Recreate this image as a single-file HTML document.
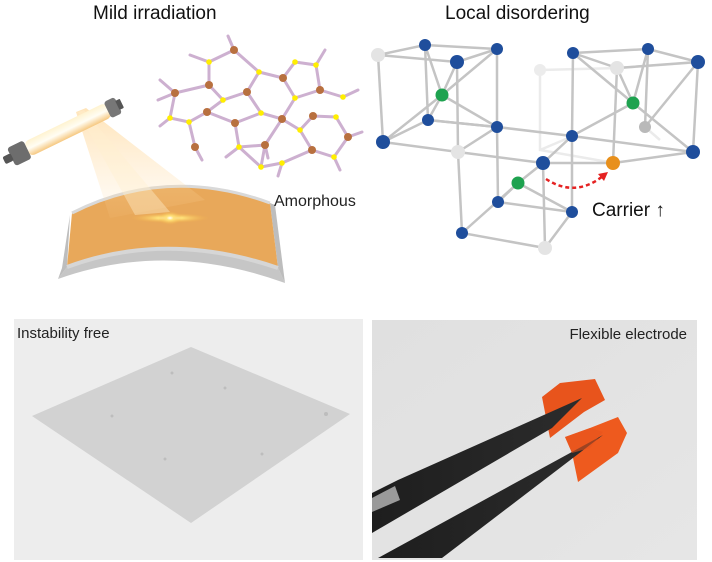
<!DOCTYPE html>
<html><head><meta charset="utf-8"><style>
html,body{margin:0;padding:0;background:#fff;width:712px;height:562px;overflow:hidden}
svg{display:block;font-family:"Liberation Sans",sans-serif}
</style></head><body>
<svg width="712" height="562" viewBox="0 0 712 562" xmlns="http://www.w3.org/2000/svg">
<defs>
<linearGradient id="tube" x1="0" y1="0" x2="0" y2="1"><stop offset="0" stop-color="#fff3d0"/><stop offset="0.5" stop-color="#fffdf4"/><stop offset="1" stop-color="#f6c880"/></linearGradient>
<radialGradient id="glow" cx="0.5" cy="0.5" r="0.5"><stop offset="0" stop-color="#fff"/><stop offset="0.3" stop-color="#ffe27a"/><stop offset="1" stop-color="#f2b04a" stop-opacity="0"/></radialGradient>
<linearGradient id="cone" x1="0" y1="0" x2="0" y2="1"><stop offset="0" stop-color="#ffd28a" stop-opacity="0.85"/><stop offset="1" stop-color="#ffdca8" stop-opacity="0.1"/></linearGradient>
<linearGradient id="arm" x1="0" y1="0" x2="1" y2="0"><stop offset="0" stop-color="#1e1e1e"/><stop offset="1" stop-color="#2c2c2c"/></linearGradient>
<linearGradient id="rbg" x1="0" y1="0" x2="1" y2="1"><stop offset="0" stop-color="#e0e0e0"/><stop offset="1" stop-color="#e6e6e6"/></linearGradient>
</defs>

<text x="93" y="19" font-size="19" fill="#111">Mild irradiation</text>
<text x="445" y="19" font-size="19" fill="#111">Local disordering</text>

<!-- substrate -->
<path d="M58,279 Q167,240 285,283 L278,268 Q167,230 67,267 Z" fill="#c6c6c6"/>
<path d="M67,267 L58,279 L62,268 L70,215 Z" fill="#bdbdbd"/>
<path d="M278,268 L285,283 L275,205 L270,203 Z" fill="#bdbdbd"/>
<path d="M72,213 Q167,165 270,203 L278,268 Q167,230 67,267 Z" fill="#e8a85a"/>
<path d="M72,213 Q167,165 270,203" fill="none" stroke="#d9d9d9" stroke-width="3"/>
<path d="M67,267 Q167,230 278,268" fill="none" stroke="#d6d6d6" stroke-width="4"/>

<!-- light cone -->
<polygon points="76,112 86,108 205,200 110,218" fill="url(#cone)" opacity="0.7"/>
<polygon points="78,112 84,110 170,212 135,215" fill="#fff0d0" opacity="0.4"/>
<ellipse cx="170" cy="218" rx="40" ry="5" fill="url(#glow)"/>
<ellipse cx="170" cy="218" rx="12" ry="7" fill="url(#glow)"/>

<!-- lamp -->
<g transform="translate(67,130) rotate(-26)">
<rect x="-45" y="-8" width="92" height="16" rx="6" fill="url(#tube)"/>
<rect x="-62" y="-10" width="18" height="20" rx="3" fill="#6d6d6d"/>
<rect x="-70" y="-4" width="9" height="8" rx="2" fill="#555"/>
<rect x="45" y="-9" width="12" height="18" rx="3" fill="#777"/>
<rect x="56" y="-5" width="5" height="10" rx="1" fill="#555"/>
</g>

<!-- amorphous network -->
<g stroke="#cdb0d0" stroke-width="3" stroke-linecap="round" fill="none">
<path d="M234,50 L209,62 L209,85 L175,93 M209,85 L223,100 L247,92 L259,72 L234,50 M259,72 L283,78 L295,62 L316,65 L320,90 L343,97 M283,78 L295,98 L320,90 M295,98 L282,119 L300,130 L313,116 L336,117 L348,137 L334,157 L312,150 L300,130 M247,92 L261,113 L282,119 M175,93 L170,118 L189,122 L207,112 L223,100 M207,112 L235,123 L261,113 M235,123 L239,147 L261,167 L282,163 L312,150 M239,147 L265,145 L282,119 M189,122 L195,147 M265,145 L261,167"/>
<path d="M234,50 L228,36 M209,62 L190,55 M175,93 L160,80 M170,118 L160,126 M195,147 L202,160 M316,65 L325,50 M343,97 L358,90 M348,137 L362,132 M334,157 L340,170 M282,163 L278,176 M239,147 L226,157 M265,145 L268,158 M175,93 L158,100"/>
</g>
<g fill="#b8703f">
<circle cx="234" cy="50" r="4"/><circle cx="209" cy="85" r="4"/><circle cx="175" cy="93" r="4"/><circle cx="247" cy="92" r="4"/><circle cx="283" cy="78" r="4"/><circle cx="320" cy="90" r="4"/><circle cx="207" cy="112" r="4"/><circle cx="235" cy="123" r="4"/><circle cx="282" cy="119" r="4"/><circle cx="313" cy="116" r="4"/><circle cx="265" cy="145" r="4"/><circle cx="348" cy="137" r="4"/><circle cx="195" cy="147" r="4"/><circle cx="312" cy="150" r="4"/>
</g>
<g fill="#ffee00">
<circle cx="209" cy="62" r="2.8"/><circle cx="259" cy="72" r="2.8"/><circle cx="295" cy="62" r="2.8"/><circle cx="316" cy="65" r="2.8"/><circle cx="223" cy="100" r="2.8"/><circle cx="295" cy="98" r="2.8"/><circle cx="343" cy="97" r="2.8"/><circle cx="170" cy="118" r="2.8"/><circle cx="189" cy="122" r="2.8"/><circle cx="261" cy="113" r="2.8"/><circle cx="300" cy="130" r="2.8"/><circle cx="336" cy="117" r="2.8"/><circle cx="239" cy="147" r="2.8"/><circle cx="282" cy="163" r="2.8"/><circle cx="334" cy="157" r="2.8"/><circle cx="261" cy="167" r="2.8"/>
</g>
<text x="274" y="206" font-size="16" fill="#222">Amorphous</text>

<!-- lattice -->
<g stroke="#ebebeb" stroke-width="2.5" fill="none">
<path d="M540,70 L620,68 L700,62 M540,70 L540,150 L614,163 M645,127 L660,140 M540,150 L573,136"/>
</g>
<circle cx="540" cy="70" r="6" fill="#ececec"/>
<g stroke="#c4c4c4" stroke-width="2.5" fill="none" stroke-linecap="round">
<path d="M378,55 L425,45 L497,49 L457,62 L378,55 M378,55 L383,142 L428,120 L497,127 L458,152 L383,142 M425,45 L428,120 M497,49 L497,127 M457,62 L458,152 M425,45 L442,95 L457,62 M428,120 L442,95 L497,49 M442,95 L497,127 M383,142 L442,95"/>
<path d="M573,53 L648,49 L698,62 L617,68 L573,53 M573,53 L572,136 L693,152 M698,62 L693,152 M648,49 L645,127 M617,68 L613,163 L693,152 M573,53 L633,103 L648,49 M633,103 L693,152 M633,103 L617,68 M633,103 L572,136 M645,127 L698,62"/>
<path d="M497,127 L572,136 M458,152 L543,163 L613,163 M458,152 L462,233 L545,248 L572,212 L572,136 M543,163 L545,248 M497,127 L498,202 L518,183 L543,163 L572,136 M518,183 L572,212 M462,233 L518,183 M498,202 L572,212 M428,120 L497,127"/>
</g>
<g>
<circle cx="378" cy="55" r="7" fill="#e4e4e4"/><circle cx="617" cy="68" r="7" fill="#e4e4e4"/><circle cx="458" cy="152" r="7" fill="#e4e4e4"/><circle cx="645" cy="127" r="6" fill="#b9b9b9"/><circle cx="545" cy="248" r="7" fill="#e4e4e4"/>
<g fill="#1f4e9c">
<circle cx="425" cy="45" r="6"/><circle cx="497" cy="49" r="6"/><circle cx="457" cy="62" r="7"/><circle cx="573" cy="53" r="6"/><circle cx="648" cy="49" r="6"/><circle cx="698" cy="62" r="7"/><circle cx="428" cy="120" r="6"/><circle cx="497" cy="127" r="6"/><circle cx="383" cy="142" r="7"/><circle cx="572" cy="136" r="6"/><circle cx="693" cy="152" r="7"/><circle cx="543" cy="163" r="7"/><circle cx="498" cy="202" r="6"/><circle cx="572" cy="212" r="6"/><circle cx="462" cy="233" r="6"/>
</g>
<g fill="#1ea24f"><circle cx="442" cy="95" r="6.5"/><circle cx="633" cy="103" r="6.5"/><circle cx="518" cy="183" r="6.5"/></g>
<circle cx="613" cy="163" r="7" fill="#e8901c"/>
</g>
<path d="M546,179 Q575,198 603,176" fill="none" stroke="#e52222" stroke-width="2.5" stroke-dasharray="4,3"/>
<polygon points="608,172 598,174 604,181" fill="#e52222"/>
<text x="592" y="216" font-size="19" fill="#111">Carrier ↑</text>

<!-- bottom left panel -->
<rect x="14" y="319" width="349" height="241" fill="#ededed"/>
<polygon points="191,347 350,414 191,523 32,416" fill="#d2d2d2"/>
<g fill="#bdbdbd"><circle cx="172" cy="373" r="1.5"/><circle cx="225" cy="388" r="1.5"/><circle cx="112" cy="416" r="1.5"/><circle cx="326" cy="414" r="2"/><circle cx="165" cy="459" r="1.5"/><circle cx="262" cy="454" r="1.5"/></g>
<text x="17" y="338" font-size="15" fill="#222">Instability free</text>

<!-- bottom right panel -->
<rect x="372" y="320" width="325" height="240" fill="url(#rbg)"/>
<text x="687" y="339" font-size="15" fill="#222" text-anchor="end">Flexible electrode</text>
<polygon points="542,397 560,383 595,379 605,400 584,412 550,438" fill="#e8541c"/>
<polygon points="565,437 590,428 618,417 627,433 618,453 578,482 572,453" fill="#ee5a1e"/>
<polygon points="582,398 398,480 372,493 372,533 552,428" fill="url(#arm)"/>
<polygon points="603,435 378,558 442,558" fill="url(#arm)"/>
<polygon points="372,498 395,486 400,500 372,512" fill="#9a9a9a"/>
<polygon points="565,437 590,428 603,432 590,448 572,453" fill="#e8541c" opacity="0.6"/>
</svg>
</body></html>
